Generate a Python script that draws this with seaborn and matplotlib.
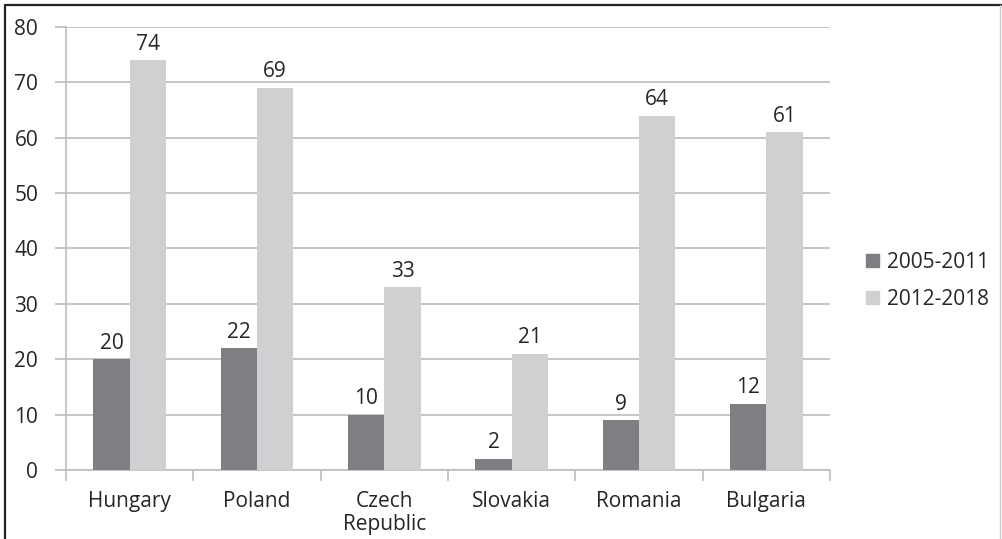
import matplotlib
matplotlib.use("Agg")
import matplotlib.pyplot as plt
import seaborn as sns
import pandas as pd
from matplotlib.lines import Line2D

countries = ["Hungary", "Poland", "Czech\nRepublic", "Slovakia", "Romania", "Bulgaria"]
period_a = [20, 22, 10, 2, 9, 12]
period_b = [74, 69, 33, 21, 64, 61]
series_names = ["2005-2011", "2012-2018"]
yticks = [0, 10, 20, 30, 40, 50, 60, 70, 80]

df = pd.DataFrame({
    "country": countries * 2,
    "value": period_a + period_b,
    "period": [series_names[0]] * len(countries) + [series_names[1]] * len(countries),
})

sns.set_style("white")
plt.rcParams["font.family"] = ["Open Sans", "DejaVu Sans"]
text_color = "#262626"
fs = 15

fig = plt.figure(figsize=(10.02, 5.39), dpi=100)
ax = fig.add_axes([66 / 1002, 1 - 470 / 539, (830 - 66) / 1002, (470 - 27) / 539])

colors = ["#7e7e83", "#d0d0d2"]
sns.barplot(data=df, x="country", y="value", hue="period", palette=colors,
            width=0.57, saturation=1, ax=ax, legend=False, zorder=3, linewidth=0)

for container in ax.containers:
    ax.bar_label(container, padding=4, fontsize=fs, color=text_color)

ax.set_ylim(0, 80)
ax.set_yticks(yticks)
ax.set_xlim(-0.5, len(countries) - 0.5)
ax.yaxis.grid(True, color="#bcbcbc", linewidth=1.2, zorder=0)
ax.xaxis.grid(False)
for s in ["top", "right"]:
    ax.spines[s].set_visible(False)
for s in ["left", "bottom"]:
    ax.spines[s].set_color("#bcbcbc")
    ax.spines[s].set_linewidth(1.2)
ax.set_xlabel("")
ax.set_ylabel("")
ax.tick_params(axis="y", length=8, color="#bcbcbc", width=1.2, labelsize=fs,
               labelcolor=text_color, pad=12, left=True)
ax.set_xticks(range(len(countries)))
ax.set_xticklabels(countries)
ax.tick_params(axis="x", length=0, labelsize=fs, labelcolor=text_color, pad=15)
ax.set_xticks([i + 0.5 for i in range(-1, len(countries))], minor=True)
ax.tick_params(axis="x", which="minor", length=8, color="#bcbcbc", width=1.2, bottom=True, direction="out")
for lbl in ax.get_xticklabels():
    lbl.set_verticalalignment("top")
    lbl.set_linespacing(1.15)

handles = [plt.Rectangle((0, 0), 1, 1, color=c) for c in colors]
fig.legend(handles, series_names, loc="center left", bbox_to_anchor=(866 / 1002, 1 - 281 / 539),
           frameon=False, fontsize=fs, labelcolor=text_color, handlelength=0.6, handleheight=0.6,
           handletextpad=0.4, labelspacing=0.75, borderpad=0, borderaxespad=0)

fig.add_artist(Line2D([5 / 1002, 5 / 1002], [0, 1 - 5 / 539], color="#222222", lw=1.6, transform=fig.transFigure))
fig.add_artist(Line2D([5 / 1002, 1], [1 - 5 / 539, 1 - 5 / 539], color="#222222", lw=1.6, transform=fig.transFigure))
fig.add_artist(Line2D([1000 / 1002, 1000 / 1002], [0, 1 - 5 / 539], color="#cccccc", lw=1.0, transform=fig.transFigure))

fig.savefig("out.png", dpi=100)
